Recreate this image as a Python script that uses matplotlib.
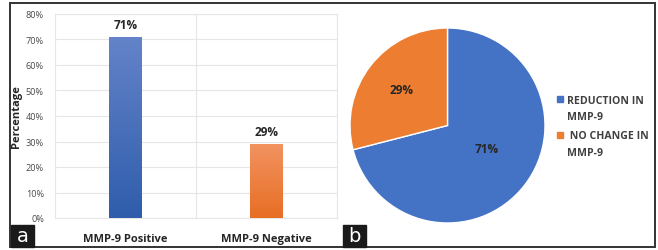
import numpy as np
import matplotlib.pyplot as plt
from matplotlib.patches import Rectangle
from matplotlib.colors import LinearSegmentedColormap

plt.rcParams['font.family'] = ['Open Sans', 'DejaVu Sans']

# data
groups = ['MMP-9 Positive', 'MMP-9 Negative']
pct = [71, 29]
pie_labels = ['REDUCTION IN\nMMP-9', ' NO CHANGE IN\nMMP-9']
pie_vals = [71, 29]
yticks = [0, 10, 20, 30, 40, 50, 60, 70, 80]

W, H = 658, 251
fig = plt.figure(figsize=(W / 100, H / 100), dpi=100)

def box(x0, y0, x1, y1):
    # pixel coords (top-left origin) -> figure fraction
    return [x0 / W, 1 - y1 / H, (x1 - x0) / W, (y1 - y0) / H]

# outer frame
fig.patches.append(Rectangle((10 / W, 1 - 248 / H), 645 / W, 244 / H, transform=fig.transFigure,
                             fill=False, edgecolor='#333333', lw=1.4))

# ---- bar chart
ax = fig.add_axes(box(55, 15, 337, 219))
x = np.arange(len(groups))
bar_cols = [('#2F5DAB', '#6483C9'), ('#E86E24', '#F29360')]
bars = ax.bar(x, pct, width=0.23, color='none', zorder=3)
for b, (c0, c1) in zip(bars, bar_cols):
    cmap = LinearSegmentedColormap.from_list('g', [c0, c1])
    grad = np.linspace(0, 1, 100).reshape(-1, 1)
    bx, by = b.get_x(), b.get_y()
    im = ax.imshow(grad, cmap=cmap, origin='lower', aspect='auto', zorder=3,
                   extent=[bx, bx + b.get_width(), by, by + b.get_height()])
    im.set_clip_path(b)
for xi, v in zip(x, pct):
    ax.text(xi, v + 2.5, f'{v}%', ha='center', va='bottom', fontsize=8.5,
            fontweight='bold', color='#262626')
ax.set_xlim(-0.5, 1.5)
ax.set_ylim(0, 80)
ax.set_yticks(yticks)
ax.set_yticklabels([f'{t}%' for t in yticks], fontsize=6.6, color='#4a4a4a')
ax.set_xticks(x)
ax.set_xticklabels(groups, fontsize=8, fontweight='bold', color='#262626')
ax.tick_params(length=0)
ax.tick_params(axis='y', pad=8)
ax.tick_params(axis='x', pad=11)
ax.grid(axis='y', color='#e6e6e6', lw=0.8, zorder=0)
ax.axvline(0.5, color='#e6e6e6', lw=0.8, zorder=0)
for s in ax.spines.values():
    s.set_color('#e6e6e6')
    s.set_linewidth(0.8)
ax.set_ylabel('Percentage', fontsize=8, fontweight='bold', color='#262626')
ax.yaxis.set_label_coords(-(55 - 22) / (337 - 55), 0.5)

# ---- pie chart
pax = fig.add_axes(box(350, 29, 545, 224))
wedges, _ = pax.pie(pie_vals, colors=['#4472C4', '#ED7D31'], startangle=90, counterclock=False,
                    wedgeprops=dict(edgecolor='white', linewidth=1.0))
pax.set_xlim(-1, 1)
pax.set_ylim(-1, 1)
pax.set_aspect('equal')
pax.text(0.40, -0.24, '71%', ha='center', va='center', fontsize=8.5, fontweight='bold', color='#262626')
pax.text(-0.47, 0.37, '29%', ha='center', va='center', fontsize=8.5, fontweight='bold', color='#262626')

# legend drawn by hand so the marker sits on the first line of each label
for i, (w, lab) in enumerate(zip(wedges, pie_labels)):
    ytop = 100 + i * 36
    fig.patches.append(Rectangle((557 / W, 1 - (ytop + 3) / H), 6 / W, 6 / H,
                                 transform=fig.transFigure, color=w.get_facecolor()))
    fig.text(567 / W, 1 - (ytop + 5) / H, lab, ha='left', va='center_baseline', fontsize=7.6,
             fontweight='bold', color='#404040', linespacing=1.75)

# panel letters
for (x0, x1), letter in [((11, 34), 'a'), ((343, 366), 'b')]:
    fig.patches.append(Rectangle((x0 / W, 1 - 248 / H), (x1 - x0) / W, 22 / H,
                                 transform=fig.transFigure, color='#1a1a1a', zorder=5))
    fig.text((x0 + x1) / 2 / W, 1 - 237 / H, letter, ha='center', va='center', color='white',
             fontsize=14, family='DejaVu Sans', zorder=6)

plt.savefig('out.png', dpi=100)
